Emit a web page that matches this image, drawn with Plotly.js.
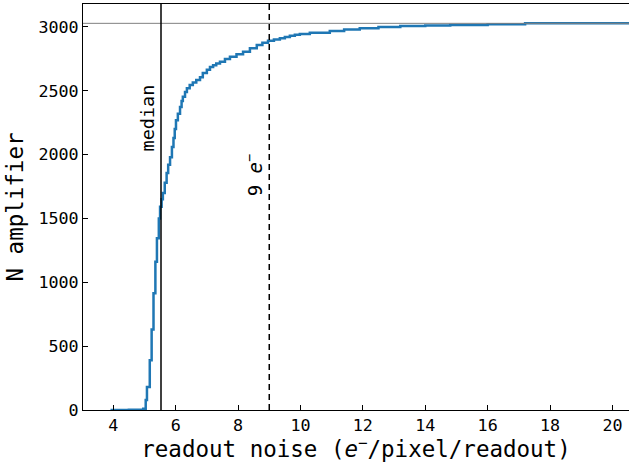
<!DOCTYPE html>
<html>
<head>
<meta charset="utf-8">
<script src="https://cdn.plot.ly/plotly-3.0.1.min.js"></script>
<style>html,body{margin:0;padding:0;background:#fff}#chart{width:629px;height:462px}</style>
</head>
<body>
<div id="chart"></div>
<script>
// readout noise (e-/pixel/readout) and cumulative number of amplifiers
const noise = [3.91, 4.5, 4.96, 5.04, 5.08, 5.17, 5.23, 5.29, 5.35, 5.40, 5.46, 5.50, 5.55, 5.59, 5.65, 5.71, 5.76, 5.82, 5.88, 5.93, 5.97, 6.01, 6.07, 6.14, 6.19, 6.23, 6.30, 6.36, 6.45, 6.55, 6.66, 6.78, 6.87, 7.0, 7.1, 7.2, 7.3, 7.42, 7.58, 7.74, 7.95, 8.16, 8.38, 8.6, 8.78, 8.96, 9.15, 9.34, 9.5, 9.66, 9.82, 9.98, 10.3, 10.94, 11.4, 11.9, 12.5, 13.2, 14.0, 14.8, 16.0, 17.2, 20.6];
const nAmp = [0, 2, 10, 78, 180, 390, 630, 915, 1160, 1345, 1500, 1592, 1650, 1700, 1780, 1855, 1920, 1980, 2060, 2130, 2200, 2270, 2320, 2373, 2420, 2453, 2490, 2520, 2545, 2565, 2585, 2605, 2640, 2665, 2686, 2700, 2713, 2727, 2748, 2767, 2786, 2806, 2832, 2858, 2875, 2892, 2902, 2912, 2921, 2930, 2938, 2945, 2955, 2968, 2980, 2990, 2999, 3007, 3012, 3015, 3021, 3028, 3028];
const totalN = 3028;
const medianNoise = 5.53;
const threshold = 9;
const xTicks = [4, 6, 8, 10, 12, 14, 16, 18, 20];
const yTicks = [0, 500, 1000, 1500, 2000, 2500, 3000];

const font = "DejaVu Sans Mono";
const trace = {
  x: noise, y: nAmp, type: 'scatter', mode: 'lines',
  line: {shape: 'hv', color: '#1f77b4', width: 2.5},
  hoverinfo: 'skip'
};
const layout = {
  width: 629, height: 462,
  margin: {l: 83, r: 0, t: 4, b: 52},
  paper_bgcolor: '#fff', plot_bgcolor: '#fff',
  showlegend: false,
  font: {family: font, color: '#000', size: 16.7},
  xaxis: {
    range: [3.03, 20.53], tickvals: xTicks, ticktext: xTicks.map(String),
    ticks: 'inside', ticklen: 5, tickwidth: 1, tickcolor: '#000',
    showline: true, linecolor: '#000', linewidth: 1, mirror: true,
    showgrid: false, zeroline: false,
    tickfont: {family: font, size: 16.7, color: '#000'},
    title: {text: 'readout noise (<i>e</i><sup>−</sup>/pixel/readout)', font: {family: font, size: 22.5, color: '#000'}, standoff: 5}
  },
  yaxis: {
    range: [0, totalN * 1.05], tickvals: yTicks, ticktext: yTicks.map(String),
    ticks: 'inside', ticklen: 5, tickwidth: 1, tickcolor: '#000',
    showline: true, linecolor: '#000', linewidth: 1, mirror: false,
    showgrid: false, zeroline: false,
    tickfont: {family: font, size: 16.7, color: '#000'},
    title: {text: 'N amplifier', font: {family: font, size: 22.5, color: '#000'}, standoff: 8}
  },
  shapes: [
    {type: 'line', xref: 'paper', x0: 0, x1: 1, yref: 'y', y0: totalN, y1: totalN, line: {color: '#808080', width: 1}},
    {type: 'line', xref: 'x', x0: medianNoise, x1: medianNoise, yref: 'paper', y0: 0, y1: 1, line: {color: '#000', width: 1.5}},
    {type: 'line', xref: 'x', x0: threshold, x1: threshold, yref: 'paper', y0: 0, y1: 1, line: {color: '#000', width: 1.5, dash: '6px,4px'}}
  ],
  annotations: [
    {x: medianNoise, y: 2287, xref: 'x', yref: 'y', text: 'median', textangle: -90, showarrow: false, xanchor: 'right', yanchor: 'middle', xshift: -1, font: {family: font, size: 18.5, color: '#000'}},
    {x: threshold, y: 1840, xref: 'x', yref: 'y', text: '9 <i>e</i><sup>−</sup>', textangle: -90, showarrow: false, xanchor: 'right', yanchor: 'middle', xshift: -1, font: {family: font, size: 19, color: '#000'}}
  ]
};
Plotly.newPlot('chart', [trace], layout, {staticPlot: true, displayModeBar: false});
</script>
</body>
</html>
